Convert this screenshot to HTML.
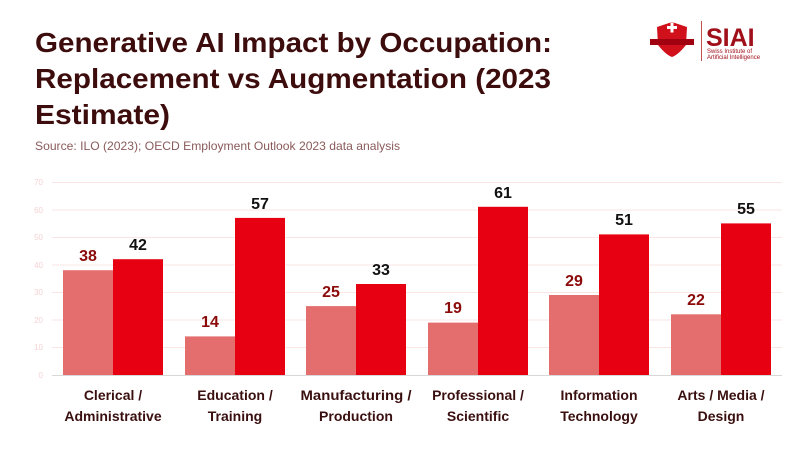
<!DOCTYPE html>
<html><head><meta charset="utf-8"><style>
html,body{margin:0;padding:0;background:#fff;}
svg{display:block;font-family:"Liberation Sans",sans-serif;}
</style></head><body>
<svg width="800" height="450" viewBox="0 0 800 450" xmlns="http://www.w3.org/2000/svg">
<g font-weight="bold" fill="#3d0c0c" font-size="28">
<text x="35" y="52" textLength="517" lengthAdjust="spacingAndGlyphs">Generative AI Impact by Occupation:</text>
<text x="35" y="88" textLength="516" lengthAdjust="spacingAndGlyphs">Replacement vs Augmentation (2023</text>
<text x="35" y="124" textLength="135" lengthAdjust="spacingAndGlyphs">Estimate)</text>
</g>
<text x="35" y="150" font-size="12" fill="#8a5a5a" textLength="365" lengthAdjust="spacingAndGlyphs">Source: ILO (2023); OECD Employment Outlook 2023 data analysis</text>
<!-- logo -->
<g>
<path d="M657 27 L672 22 L687 27 L686 45 Q678 55 672 57 Q666 55 658 45 Z" fill="#d0101a"/>
<rect x="650" y="39" width="44" height="6" fill="#a00010"/>
<rect x="667" y="26" width="10" height="3" fill="#fff"/>
<rect x="670.5" y="22.5" width="3" height="10" fill="#fff"/>
<rect x="701" y="21" width="1" height="40" fill="#c05050"/>
<text x="706" y="46" font-size="25" font-weight="bold" fill="#a0101a">SIAI</text>
<text x="707" y="53" font-size="6" fill="#a0101a">Swiss Institute of</text>
<text x="707" y="59" font-size="6" fill="#a0101a">Artificial Intelligence</text>
</g>
<!-- grid -->
<g stroke="#fbe4e4" stroke-width="1">
<line x1="52" x2="782" y1="182.5" y2="182.5"/>
<line x1="52" x2="782" y1="210" y2="210"/>
<line x1="52" x2="782" y1="237.5" y2="237.5"/>
<line x1="52" x2="782" y1="265" y2="265"/>
<line x1="52" x2="782" y1="292.5" y2="292.5"/>
<line x1="52" x2="782" y1="320" y2="320"/>
<line x1="52" x2="782" y1="347.5" y2="347.5"/>
</g>
<line x1="52" x2="782" y1="375.5" y2="375.5" stroke="#d8d8d8"/>
<g font-size="8" fill="#f5d3d3" text-anchor="end">
<text x="43" y="185">70</text><text x="43" y="213">60</text><text x="43" y="240">50</text><text x="43" y="268">40</text><text x="43" y="295">30</text><text x="43" y="323">20</text><text x="43" y="350">10</text><text x="43" y="378">0</text>
</g>
<g fill="#e46e6e">
<rect x="63" y="270.2" width="50" height="104.8"/>
<rect x="185" y="336.4" width="50" height="38.6"/>
<rect x="306" y="306.1" width="50" height="68.9"/>
<rect x="428" y="322.6" width="50" height="52.4"/>
<rect x="549" y="295.0" width="50" height="80"/>
<rect x="671" y="314.3" width="50" height="60.7"/>
</g>
<g fill="#e60012">
<rect x="113" y="259.2" width="50" height="115.8"/>
<rect x="235" y="217.9" width="50" height="157.1"/>
<rect x="356" y="284.0" width="50" height="91"/>
<rect x="478" y="206.8" width="50" height="168.2"/>
<rect x="599" y="234.4" width="50" height="140.6"/>
<rect x="721" y="223.4" width="50" height="151.6"/>
</g>
<g font-size="16" font-weight="bold" text-anchor="middle" fill="#8b0a0a">
<text x="88" y="261">38</text><text x="210" y="327">14</text><text x="331" y="297">25</text><text x="453" y="313">19</text><text x="574" y="286">29</text><text x="696" y="305">22</text>
</g>
<g font-size="16" font-weight="bold" text-anchor="middle" fill="#111">
<text x="138" y="250">42</text><text x="260" y="209">57</text><text x="381" y="275">33</text><text x="503" y="198">61</text><text x="624" y="225">51</text><text x="746" y="214">55</text>
</g>
<g font-size="14" font-weight="bold" text-anchor="middle" fill="#3a0f0f">
<text x="113" y="400">Clerical /</text><text x="113" y="421">Administrative</text>
<text x="235" y="400">Education /</text><text x="235" y="421">Training</text>
<text x="356" y="400" textLength="111" lengthAdjust="spacingAndGlyphs">Manufacturing /</text><text x="356" y="421">Production</text>
<text x="478" y="400">Professional /</text><text x="478" y="421">Scientific</text>
<text x="599" y="400">Information</text><text x="599" y="421">Technology</text>
<text x="721" y="400">Arts / Media /</text><text x="721" y="421">Design</text>
</g>
</svg>
</body></html>
